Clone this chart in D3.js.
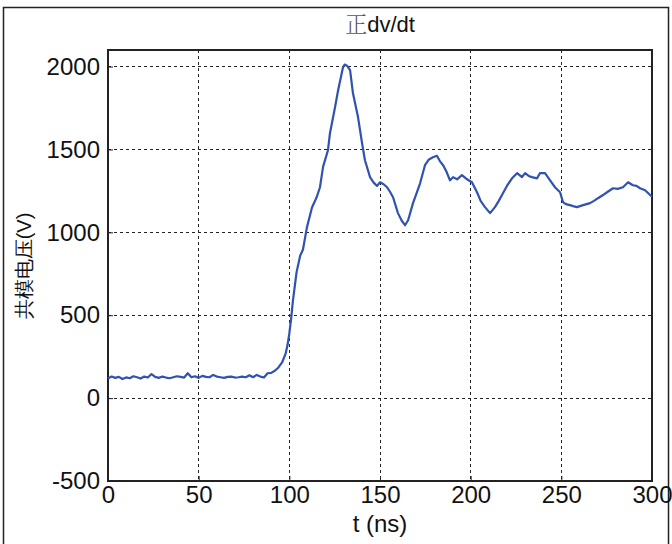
<!DOCTYPE html>
<html>
<head>
<meta charset="utf-8">
<script src="https://cdn.jsdelivr.net/npm/d3@7/dist/d3.min.js"></script>
<style>
  body { margin: 0; background: #fff; }
  svg text { font-family: "Liberation Sans", Arial, sans-serif; fill: #111; }
</style>
</head>
<body>
<svg id="chart" width="672" height="544"></svg>
<script>
// chart text
const TITLE_CJK = '正';
const TITLE_REST = 'dv/dt';
const X_LABEL = 't (ns)';
const Y_LABEL = '共模电压(V)';

const X_TICKS = [0, 50, 100, 150, 200, 250, 300];
const Y_TICKS = [-500, 0, 500, 1000, 1500, 2000];

// waveform (ns, V)
const timeNs = [
    0, 2, 4, 6, 8, 10, 12, 14, 16, 18, 20, 22, 24, 26, 28, 30, 32, 34, 36, 38,
    40, 42, 44, 46, 48, 50, 52, 54, 56, 58, 60, 62, 64, 66, 68, 70, 72, 74, 76, 78,
    80, 82, 84, 86, 88, 90, 92, 94, 96, 98, 99, 100, 101, 102, 104, 106, 107.5, 109.7,
    112.5, 115, 116.9, 118.6, 121.3, 122.4, 125.2, 126.9, 129.6, 130.5, 131.8, 133.5, 135.1,
    137.9, 140.1, 141.7, 144.5, 146.5, 148.4, 150, 152, 153.9, 155.5, 157.2, 159.9, 162, 163.8, 165.5, 168.2,
    170, 172.1, 174.8, 177, 179.2, 181.4, 183, 184.8, 186.5, 188.6, 190.3, 192.5, 195.2, 198, 200.7, 203.5, 205.5, 207.9, 210.7,
    213.4, 215.5, 217.8, 220, 222.8, 225.6, 228.3, 230, 232, 233.8, 236.6, 238.2, 241, 243.8, 246.5,
    249.3, 250.9, 252.5, 254.8, 256.5, 258.6, 262, 265.8, 268, 270.2, 273, 275.2, 278.5, 281, 284, 286.8, 289.5,
    291.5, 293.4, 296.2, 300
];
const voltage = [
    118, 130, 122, 128, 115, 125, 120, 132, 126, 118, 130, 124, 145, 128, 122, 130, 124, 120, 126, 132,
    128, 124, 150, 126, 132, 122, 134, 128, 126, 140, 130, 126, 122, 128, 130, 124, 126, 130, 126, 138,
    126, 140, 130, 124, 150, 152, 165, 185, 215, 270, 320, 390, 480, 590, 760, 860, 895, 1030,
    1150, 1210, 1272, 1395, 1495, 1598, 1755, 1857, 1996, 2012, 2005, 1978, 1839,
    1694, 1538, 1435, 1333, 1300, 1280, 1302, 1290, 1272, 1245, 1212, 1116, 1070, 1043, 1073, 1176,
    1230, 1296, 1405, 1440, 1453, 1462, 1430, 1405, 1370, 1314, 1333, 1320, 1345, 1320, 1302, 1242, 1190, 1152, 1116,
    1152, 1190, 1236, 1280, 1326, 1357, 1333, 1357, 1340, 1333, 1326, 1357, 1357, 1314, 1272,
    1242, 1182, 1170, 1164, 1158, 1152, 1164, 1176, 1190, 1206, 1225, 1242, 1266, 1262, 1272, 1302, 1284,
    1280, 1266, 1254, 1215
];

const svg = d3.select('#chart');

const plot = { left: 108, right: 652, top: 50, bottom: 481 };

const x = d3.scaleLinear().domain([0, 300]).range([plot.left, plot.right]);
const y = d3.scaleLinear().domain([-500, 2100]).range([plot.bottom, plot.top]);

// outer figure frame
svg.append('rect')
    .attr('x', 3.5).attr('y', 7.5)
    .attr('width', 665).attr('height', 545)
    .attr('fill', 'none').attr('stroke', '#222').attr('stroke-width', 1.5);

// grid
const grid = svg.append('g').attr('class', 'grid');
grid.selectAll('line.vx')
    .data(X_TICKS.slice(1, -1))
    .enter().append('line')
        .attr('class', 'vx')
        .attr('x1', d => x(d)).attr('x2', d => x(d))
        .attr('y1', plot.top).attr('y2', plot.bottom);
grid.selectAll('line.hy')
    .data(Y_TICKS.slice(1))
    .enter().append('line')
        .attr('class', 'hy')
        .attr('x1', plot.left).attr('x2', plot.right)
        .attr('y1', d => y(d)).attr('y2', d => y(d));
grid.selectAll('line')
    .attr('stroke', '#222')
    .attr('stroke-width', 1)
    .attr('stroke-dasharray', '3,3')
    .attr('shape-rendering', 'crispEdges');

// axes (matlab style: ticks inside, labels outside)
const fmt = d => String(d);
const xAxis = svg.append('g')
    .attr('transform', 'translate(0,' + plot.bottom + ')')
    .call(d3.axisBottom(x).tickValues(X_TICKS).tickFormat(fmt).tickSizeInner(-5).tickSizeOuter(0).tickPadding(5));
const yAxis = svg.append('g')
    .attr('transform', 'translate(' + plot.left + ',0)')
    .call(d3.axisLeft(y).tickValues(Y_TICKS).tickFormat(fmt).tickSizeInner(-5).tickSizeOuter(0).tickPadding(8));

[xAxis, yAxis].forEach(a => {
    a.select('.domain').remove();
    a.selectAll('line').attr('stroke', '#222');
    a.selectAll('text')
        .attr('font-size', 24)
        .attr('font-family', '"Liberation Sans", Arial, sans-serif')
        .attr('fill', '#1a1a1a');
});
xAxis.selectAll('text').attr('dy', '0.71em');

// box
svg.append('rect')
    .attr('x', plot.left).attr('y', plot.top)
    .attr('width', plot.right - plot.left).attr('height', plot.bottom - plot.top)
    .attr('fill', 'none').attr('stroke', '#222').attr('stroke-width', 1.2)
    .attr('shape-rendering', 'crispEdges');

// waveform
const points = timeNs.map((t, i) => [t, voltage[i]]);
svg.append('path')
    .datum(points)
    .attr('fill', 'none')
    .attr('stroke', '#3052b0')
    .attr('stroke-width', 2.2)
    .attr('stroke-linejoin', 'round')
    .attr('d', d3.line().x(d => x(d[0])).y(d => y(d[1])));

// title
const title = svg.append('text')
    .attr('x', (plot.left + plot.right) / 2)
    .attr('y', 32)
    .attr('text-anchor', 'middle')
    .attr('font-size', 22);
title.append('tspan')
    .attr('font-family', '"Noto Serif CJK SC", "Noto Sans CJK SC", serif')
    .attr('font-weight', 300)
    .attr('fill', '#555')
    .text(TITLE_CJK);
title.append('tspan').text(TITLE_REST);

// axis labels
svg.append('text')
    .attr('x', (plot.left + plot.right) / 2)
    .attr('y', 532)
    .attr('text-anchor', 'middle')
    .attr('font-size', 24)
    .text(X_LABEL);

svg.append('text')
    .attr('transform', 'translate(31,266) rotate(-90)')
    .attr('text-anchor', 'middle')
    .attr('font-size', 20)
    .attr('font-weight', 300)
    .attr('fill', '#333')
    .attr('font-family', '"Noto Sans CJK SC", "Liberation Sans", sans-serif')
    .text(Y_LABEL);
</script>
</body>
</html>
